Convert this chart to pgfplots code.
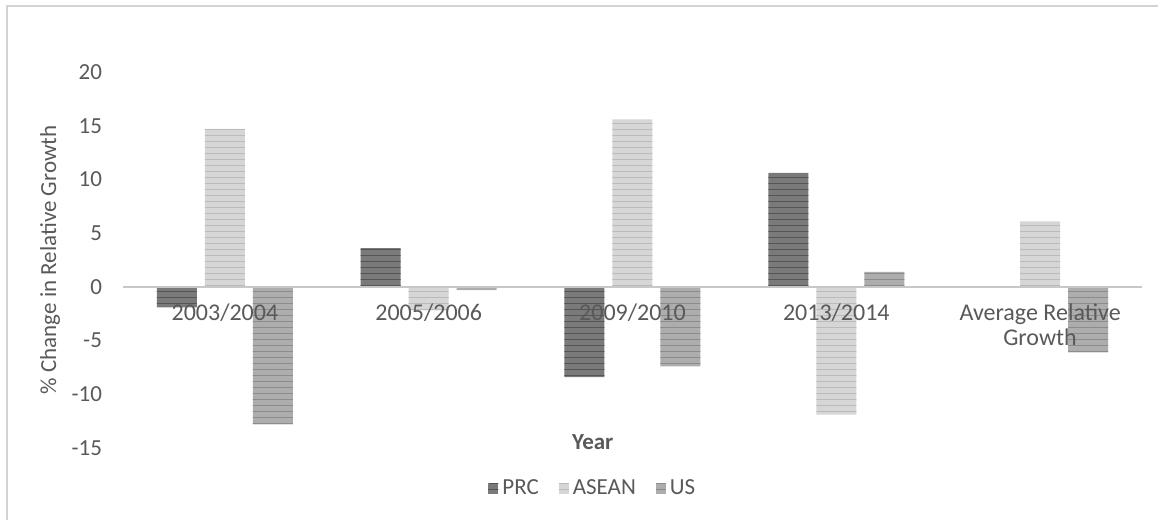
\documentclass[border=0pt]{standalone}
\usepackage{pgfplots}
\pgfplotsset{compat=1.18}
\usetikzlibrary{patterns}
\usepackage{fontspec}
\setmainfont{Carlito}

\definecolor{txt}{HTML}{595959}
\definecolor{zeroline}{HTML}{C8C8C8}
\definecolor{prcfill}{HTML}{7A7A7A}
\definecolor{prcline}{HTML}{555555}
\definecolor{aseanfill}{HTML}{D6D6D6}
\definecolor{aseanline}{HTML}{BBBBBB}
\definecolor{usfill}{HTML}{ADADAD}
\definecolor{usline}{HTML}{8C8C8C}

\begin{document}
\begin{tikzpicture}[font=\fontsize{11.5}{13}\selectfont]
% frame of the chart area
\path[use as bounding box] (-61.5pt,-36pt) rectangle (517.5pt,224pt);
\draw[draw=zeroline!80!white, line width=1pt] (-58.0pt,-36pt) -- (-58.0pt,220.8pt) -- (517.5pt,220.8pt);
\begin{axis}[
    scale only axis,
    width=509.5pt, height=188pt,
    at={(0pt,0pt)}, anchor=south west,
    ymin=-15, ymax=20,
    ytick={-15,-10,...,20},
    xmin=-0.5, xmax=4.5,
    xtick={0,1,2,3,4},
    xticklabels={2003/2004,2005/2006,2009/2010,2013/2014,{Average Relative\\Growth}},
    /pgf/number format/assume math mode=true,
    axis x line=middle,
    axis y line=left,
    axis on top,
    x axis line style={-, draw=zeroline, line width=1.3pt},
    y axis line style={draw=none},
    major tick length=0pt,
    yticklabel style={xshift=-7pt, text=txt, font=\fontsize{11.5}{13}\selectfont},
    xticklabel style={align=center, yshift=-5pt, text=txt, font=\fontsize{12}{12.5}\selectfont},
    ylabel={\% Change in Relative Growth},
    ylabel style={at={(axis description cs:0,0.5)}, anchor=center, yshift=36.5pt, text=txt,
        font=\fontsize{11.5}{13}\selectfont},
    ybar, bar width=20pt,
    legend columns=3,
    legend style={at={(0.462,-0.109)}, anchor=center, draw=none, fill=none,
        text=txt, font=\fontsize{11.5}{13}\selectfont,
        /tikz/every even column/.append style={column sep=8pt}},
    legend image code/.code={\path[#1] (0pt,-2.7pt) rectangle (5pt,2.7pt);},
    clip=false,
]
\addplot[bar shift=-24pt, draw=none, fill=prcfill,
    postaction={pattern=horizontal lines, pattern color=prcline}]
    coordinates {(0,-1.9) (1,3.6) (2,-8.4) (3,10.6) (4,0)};
\addplot[bar shift=0pt, draw=none, fill=aseanfill,
    postaction={pattern=horizontal lines, pattern color=aseanline}]
    coordinates {(0,14.7) (1,-2.2) (2,15.6) (3,-11.9) (4,6.1)};
\addplot[bar shift=24pt, draw=none, fill=usfill,
    postaction={pattern=horizontal lines, pattern color=usline}]
    coordinates {(0,-12.8) (1,-0.3) (2,-7.4) (3,1.4) (4,-6.1)};
\legend{PRC,ASEAN,US}
\node[text=txt, font=\fontsize{11.5}{13}\selectfont\bfseries] at (rel axis cs:0.461,0.016) {Year};
\end{axis}
\end{tikzpicture}
\end{document}
